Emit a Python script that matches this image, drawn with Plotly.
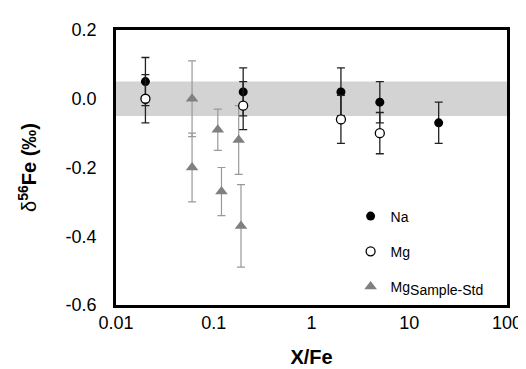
import plotly.graph_objects as go

# --- data ---
na_x = [0.02, 0.2, 2, 5, 20]
na_y = [0.05, 0.02, 0.02, -0.01, -0.07]
na_err = [0.07, 0.07, 0.07, 0.06, 0.06]

mg_x = [0.02, 0.2, 2, 5]
mg_y = [0.0, -0.02, -0.06, -0.10]
mg_err = [0.07, 0.07, 0.07, 0.06]

mgs_x = [0.06, 0.06, 0.11, 0.12, 0.18, 0.19]
mgs_y = [0.0, -0.20, -0.09, -0.27, -0.12, -0.37]
mgs_err = [0.11, 0.10, 0.06, 0.07, 0.10, 0.12]

band_low, band_high = -0.05, 0.05

y_ticks = [-0.6, -0.4, -0.2, 0.0, 0.2]
y_ticktext = ["-0.6", "-0.4", "-0.2", "0.0", "0.2"]
x_ticks = [0.01, 0.1, 1, 10, 100]
x_ticktext = ["0.01", "0.1", "1", "10", "100"]

FONT = "Liberation Sans, Arial, Helvetica, sans-serif"

fig = go.Figure()

fig.add_trace(go.Scatter(
    x=mgs_x, y=mgs_y, mode="markers",
    name="Mg<sub><span style='font-size:14px'>Sample-Std</span></sub>",
    marker=dict(symbol="triangle-up", size=11, color="#808080"),
    error_y=dict(type="data", array=mgs_err, color="#999999", thickness=1.2, width=4),
    legendgroup="c", legendrank=3,
))
fig.add_trace(go.Scatter(
    x=na_x, y=na_y, mode="markers", name="Na",
    marker=dict(symbol="circle", size=9, color="black"),
    error_y=dict(type="data", array=na_err, color="#222222", thickness=1.3, width=4),
    legendgroup="a", legendrank=1,
))
fig.add_trace(go.Scatter(
    x=mg_x, y=mg_y, mode="markers", name="Mg",
    marker=dict(symbol="circle", size=9, color="white", line=dict(color="black", width=1.3)),
    error_y=dict(type="data", array=mg_err, color="#222222", thickness=1.3, width=4),
    legendgroup="b", legendrank=2,
))

fig.add_shape(type="rect", xref="paper", yref="y", x0=0, x1=1,
              y0=band_low, y1=band_high, fillcolor="#d3d3d3", line_width=0, layer="below")

fig.update_layout(
    width=526, height=369,
    margin=dict(l=108, r=23, t=20, b=71),
    paper_bgcolor="white", plot_bgcolor="white",
    font=dict(family=FONT, color="black"),
    showlegend=True,
    legend=dict(x=0.6, xanchor="left", y=0.38, yanchor="top",
                font=dict(size=14), tracegroupgap=14,
                bgcolor="rgba(0,0,0,0)", itemsizing="trace"),
    xaxis=dict(type="log", range=[-2, 2], tickvals=x_ticks, ticktext=x_ticktext,
               showgrid=False, zeroline=False, showline=True, linecolor="black",
               linewidth=2.5, mirror=True, ticks="", tickfont=dict(size=18),
               ticklabelstandoff=0,
               title=dict(text="<b>X/Fe</b>", font=dict(size=20), standoff=18)),
    yaxis=dict(range=[-0.6, 0.2], tickvals=y_ticks, ticktext=y_ticktext,
               showgrid=False, zeroline=False, showline=True, linecolor="black",
               linewidth=2.5, mirror=True, ticks="", tickfont=dict(size=18),
               ticklabelstandoff=13,
               title=dict(text="δ<sup><b>56</b></sup><b>Fe (‰)</b>", font=dict(size=20), standoff=24)),
)

fig.write_html("out.html")
